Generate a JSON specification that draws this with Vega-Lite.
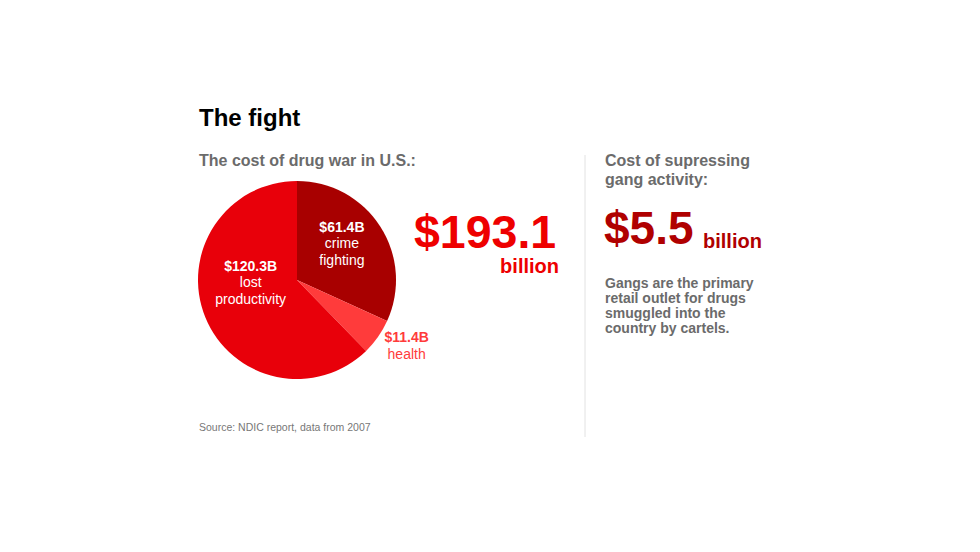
{
  "$schema": "https://vega.github.io/schema/vega-lite/v6.json",
  "width": 980,
  "height": 552,
  "autosize": "none",
  "padding": 0,
  "background": "#ffffff",
  "config": {"view": {"stroke": null}, "text": {"font": "Liberation Sans"}},
  "data": {"values": [
    {"category": "crime fighting", "value": 61.4, "label": "$61.4B"},
    {"category": "health", "value": 11.4, "label": "$11.4B"},
    {"category": "lost productivity", "value": 120.3, "label": "$120.3B"}
  ]},
  "layer": [
    {
      "mark": {"type": "arc", "x": 297, "y": 280, "radius": 99},
      "encoding": {
        "theta": {"field": "value", "type": "quantitative", "stack": true},
        "order": {"field": "category", "sort": "ascending"},
        "color": {"field": "category", "type": "nominal", "legend": null,
          "scale": {"domain": ["crime fighting", "health", "lost productivity"], "range": ["#a80000", "#ff3b3b", "#e8000a"]}}
      }
    },
    {
      "mark": {"type": "text", "x": 297, "y": 280, "radius": 57, "dx": -3, "dy": -17, "align": "center", "baseline": "alphabetic", "fontSize": 14, "fontWeight": "bold", "color": "#ffffff"},
      "encoding": {
        "theta": {"field": "value", "type": "quantitative", "stack": true},
        "order": {"field": "category", "sort": "ascending"},
        "detail": {"field": "category"},
        "text": {"condition": {"test": "datum.category === 'crime fighting'", "field": "label"}, "value": ""}
      }
    },
    {
      "mark": {"type": "text", "x": 297, "y": 280, "radius": 57, "dx": -3, "dy": -1, "align": "center", "baseline": "alphabetic", "fontSize": 14, "lineBreak": " ", "lineHeight": 16.7, "color": "#ffffff"},
      "encoding": {
        "theta": {"field": "value", "type": "quantitative", "stack": true},
        "order": {"field": "category", "sort": "ascending"},
        "detail": {"field": "category"},
        "text": {"condition": {"test": "datum.category === 'crime fighting'", "field": "category"}, "value": ""}
      }
    },
    {
      "mark": {"type": "text", "x": 297, "y": 280, "radius": 50, "dx": 0, "dy": -28, "align": "center", "baseline": "alphabetic", "fontSize": 14, "fontWeight": "bold", "color": "#ffffff"},
      "encoding": {
        "theta": {"field": "value", "type": "quantitative", "stack": true},
        "order": {"field": "category", "sort": "ascending"},
        "detail": {"field": "category"},
        "text": {"condition": {"test": "datum.category === 'lost productivity'", "field": "label"}, "value": ""}
      }
    },
    {
      "mark": {"type": "text", "x": 297, "y": 280, "radius": 50, "dx": 0, "dy": -12, "align": "center", "baseline": "alphabetic", "fontSize": 14, "lineBreak": " ", "lineHeight": 16.7, "color": "#ffffff"},
      "encoding": {
        "theta": {"field": "value", "type": "quantitative", "stack": true},
        "order": {"field": "category", "sort": "ascending"},
        "detail": {"field": "category"},
        "text": {"condition": {"test": "datum.category === 'lost productivity'", "field": "category"}, "value": ""}
      }
    },
    {
      "mark": {"type": "text", "x": 297, "y": 280, "radius": 134, "dx": 0, "dy": -15, "align": "center", "baseline": "alphabetic", "fontSize": 14, "fontWeight": "bold", "color": "#ff3b3b"},
      "encoding": {
        "theta": {"field": "value", "type": "quantitative", "stack": true},
        "order": {"field": "category", "sort": "ascending"},
        "detail": {"field": "category"},
        "text": {"condition": {"test": "datum.category === 'health'", "field": "label"}, "value": ""}
      }
    },
    {
      "mark": {"type": "text", "x": 297, "y": 280, "radius": 134, "dx": 0, "dy": 2, "align": "center", "baseline": "alphabetic", "fontSize": 14, "color": "#ff3b3b"},
      "encoding": {
        "theta": {"field": "value", "type": "quantitative", "stack": true},
        "order": {"field": "category", "sort": "ascending"},
        "detail": {"field": "category"},
        "text": {"condition": {"test": "datum.category === 'health'", "field": "category"}, "value": ""}
      }
    },
    {
      "data": {"values": [{}]},
      "mark": {"type": "text", "text": "The fight", "x": 199, "y": 126, "align": "left", "baseline": "alphabetic", "fontSize": 24, "fontWeight": "bold", "color": "#000000"},
      "encoding": {}
    },
    {
      "data": {"values": [{}]},
      "mark": {"type": "text", "text": "The cost of drug war in U.S.:", "x": 199, "y": 166, "align": "left", "baseline": "alphabetic", "fontSize": 16, "fontWeight": "bold", "color": "#6b6b6b"},
      "encoding": {}
    },
    {
      "data": {"values": [{}]},
      "mark": {"type": "text", "text": "$193.1", "x": 414, "y": 248, "align": "left", "baseline": "alphabetic", "fontSize": 46.5, "fontWeight": "bold", "color": "#ee0000"},
      "encoding": {}
    },
    {
      "data": {"values": [{}]},
      "mark": {"type": "text", "text": "billion", "x": 559, "y": 273, "align": "right", "baseline": "alphabetic", "fontSize": 20, "fontWeight": "bold", "color": "#ee0000"},
      "encoding": {}
    },
    {
      "data": {"values": [{}]},
      "mark": {"type": "rule", "color": "#e2e2e2", "strokeWidth": 1},
      "encoding": {"x": {"value": 585}, "y": {"value": 155}, "y2": {"value": 437}}
    },
    {
      "data": {"values": [{}]},
      "mark": {"type": "text", "text": ["Cost of supressing", "gang activity:"], "x": 605, "y": 166, "lineHeight": 19, "align": "left", "baseline": "alphabetic", "fontSize": 16, "fontWeight": "bold", "color": "#6b6b6b"},
      "encoding": {}
    },
    {
      "data": {"values": [{}]},
      "mark": {"type": "text", "text": "$5.5", "x": 604, "y": 244, "align": "left", "baseline": "alphabetic", "fontSize": 46, "fontWeight": "bold", "color": "#b00000"},
      "encoding": {}
    },
    {
      "data": {"values": [{}]},
      "mark": {"type": "text", "text": "billion", "x": 703, "y": 248, "align": "left", "baseline": "alphabetic", "fontSize": 20, "fontWeight": "bold", "color": "#b00000"},
      "encoding": {}
    },
    {
      "data": {"values": [{}]},
      "mark": {"type": "text", "text": ["Gangs are the primary", "retail outlet for drugs", "smuggled into the", "country by cartels."], "x": 605, "y": 288, "lineHeight": 15, "align": "left", "baseline": "alphabetic", "fontSize": 14, "fontWeight": "bold", "color": "#6b6b6b"},
      "encoding": {}
    },
    {
      "data": {"values": [{}]},
      "mark": {"type": "text", "text": "Source: NDIC report, data from 2007", "x": 199, "y": 431, "align": "left", "baseline": "alphabetic", "fontSize": 10.5, "color": "#777777"},
      "encoding": {}
    }
  ]
}
